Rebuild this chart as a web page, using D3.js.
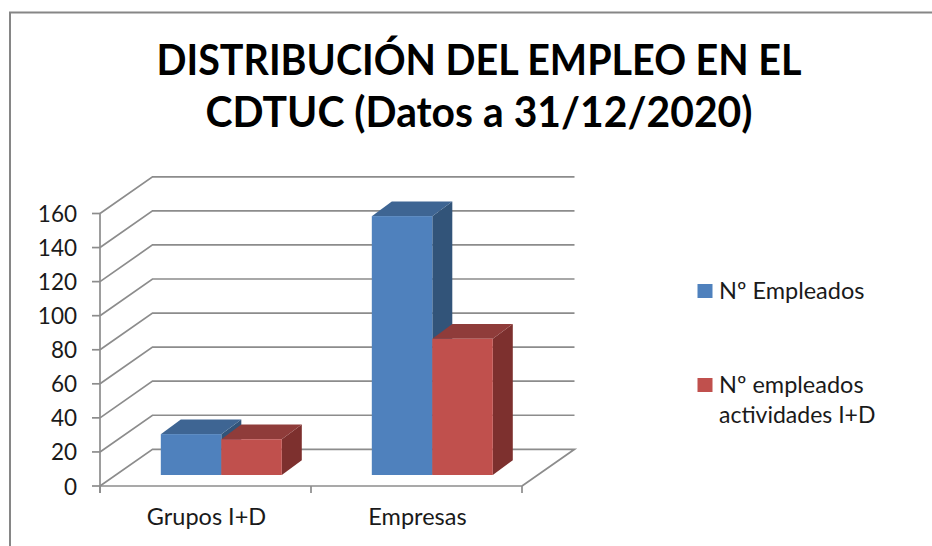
<!DOCTYPE html>
<html>
<head>
<meta charset="utf-8">
<script src="https://cdn.jsdelivr.net/npm/d3@7"></script>
<style>
  html, body { margin: 0; padding: 0; background: #fff; }
  svg { display: block; }
  text { font-family: Lato, "Open Sans", sans-serif; fill: #1a1a1a; }
</style>
</head>
<body>
<div id="chart"></div>
<script>
var categories = ["Grupos I+D", "Empresas"]
var empleados = [24, 152]
var empleadosID = [21, 80]
var yTicks = [0, 20, 40, 60, 80, 100, 120, 140, 160]
var seriesNames = ["Nº Empleados", "Nº empleados actividades I+D"]
var titleLines = ["DISTRIBUCIÓN DEL EMPLEO EN EL", "CDTUC (Datos a 31/12/2020)"]
var titleWidths = [645, 547]

var width = 932, height = 546
var gridColor = "#8c8c8c"

// the fake 3d depth of the floor, bars sit partway into it
var depthX = 52.5, depthY = 36.7
var barDepthX = 20, barDepthY = 14.7
var barOffX = 15.8, barOffY = 11

var svg = d3.select("#chart").append("svg")
  .attr("width", width)
  .attr("height", height)

// outer frame, only top and left show
svg.append("path")
  .attr("d", "M10,546V12.5H932")
  .attr("fill", "none")
  .attr("stroke", "#868686")
  .attr("stroke-width", 2)

svg.selectAll(".title")
  .data(titleLines)
  .enter()
  .append("text")
  .attr("class", "title")
  .attr("x", 479)
  .attr("y", (d, i) => 74.5 + i * 52)
  .attr("text-anchor", "middle")
  .attr("textLength", (d, i) => titleWidths[i])
  .attr("lengthAdjust", "spacingAndGlyphs")
  .style("font-size", "42px")
  .style("font-weight", 700)
  .style("fill", "#000")
  .text(d => d)

var x = d3.scaleBand()
  .domain(categories)
  .range([100, 522])

var y = d3.scaleLinear()
  .domain([0, 160])
  .range([486, 213.5])

var inner = d3.scaleBand()
  .domain(seriesNames)
  .range([0, x.bandwidth()])
  .paddingInner(0)
  .paddingOuter(0.744)

// gridlines: side wall + back wall
var grid = svg.append("g")
yTicks.forEach(function (t) {
  if (t > 0) {
    grid.append("path")
      .attr("d", d3.line()([[x.range()[0], y(t)], [x.range()[0] + depthX, y(t) - depthY], [x.range()[1] + depthX, y(t) - depthY]]))
      .attr("fill", "none")
      .attr("stroke", gridColor)
      .attr("stroke-width", 1.7)
  }
})

// floor
grid.append("path")
  .attr("d", d3.line()([[x.range()[0], y(0)], [x.range()[0] + depthX, y(0) - depthY], [x.range()[1] + depthX, y(0) - depthY], [x.range()[1], y(0)]]))
  .attr("fill", "none")
  .attr("stroke", gridColor)
  .attr("stroke-width", 1.7)

// left axis and front edge
var axisG = svg.append("g")
axisG.append("path")
  .attr("d", d3.line()([[x.range()[0], y(160)], [x.range()[0], y(0) + 7]]))
  .attr("stroke", gridColor).attr("stroke-width", 1.7).attr("fill", "none")
axisG.append("path")
  .attr("d", d3.line()([[x.range()[0], y(0)], [x.range()[1], y(0)]]))
  .attr("stroke", gridColor).attr("stroke-width", 1.7).attr("fill", "none")

axisG.selectAll(".ytick")
  .data(yTicks)
  .enter()
  .append("line")
  .attr("class", "ytick")
  .attr("x1", x.range()[0] - 8)
  .attr("x2", x.range()[0])
  .attr("y1", d => y(d))
  .attr("y2", d => y(d))
  .attr("stroke", gridColor)
  .attr("stroke-width", 1.7)

axisG.selectAll(".xtick")
  .data(categories.concat("end"))
  .enter()
  .append("line")
  .attr("class", "xtick")
  .attr("x1", (d, i) => x.range()[0] + i * x.step())
  .attr("x2", (d, i) => x.range()[0] + i * x.step())
  .attr("y1", y(0))
  .attr("y2", y(0) + 7)
  .attr("stroke", gridColor)
  .attr("stroke-width", 1.7)

axisG.selectAll(".ylabel")
  .data(yTicks)
  .enter()
  .append("text")
  .attr("class", "ylabel")
  .attr("x", 77)
  .attr("y", d => y(d) + 8.5)
  .attr("text-anchor", "end")
  .style("font-size", "22.5px")
  .text(d => d)

axisG.selectAll(".xlabel")
  .data(categories)
  .enter()
  .append("text")
  .attr("class", "xlabel")
  .attr("x", d => x(d) + x.bandwidth() / 2 + 1)
  .attr("y", 525)
  .attr("text-anchor", "middle")
  .style("font-size", "23.5px")
  .text(d => d)

var palette = [
  { front: "#4f81bd", top: "#3e6593", side: "#325479" },
  { front: "#c0504d", top: "#8f3c3a", side: "#7d302e" }
]

function drawBar(cat, serie, value) {
  var c = palette[seriesNames.indexOf(serie)]
  var x0 = x(cat) + inner(serie) + barOffX
  var x1 = x0 + inner.bandwidth()
  var yb = y(0) - barOffY
  var yt = yb - (y(0) - y(value))
  var g = svg.append("g")
  g.append("path")
    .attr("d", d3.line()([[x1, yb], [x1 + barDepthX, yb - barDepthY], [x1 + barDepthX, yt - barDepthY], [x1, yt]]) + "Z")
    .attr("fill", c.side)
  g.append("path")
    .attr("d", d3.line()([[x0, yt], [x0 + barDepthX, yt - barDepthY], [x1 + barDepthX, yt - barDepthY], [x1, yt]]) + "Z")
    .attr("fill", c.top)
  g.append("rect")
    .attr("x", x0)
    .attr("y", yt)
    .attr("width", inner.bandwidth())
    .attr("height", yb - yt)
    .attr("fill", c.front)
}

categories.forEach(function (cat, i) {
  drawBar(cat, seriesNames[0], empleados[i])
  drawBar(cat, seriesNames[1], empleadosID[i])
})

// legend
var legend = svg.append("g")
legend.append("rect").attr("x", 697.5).attr("y", 284).attr("width", 15).attr("height", 14).attr("fill", palette[0].front)
legend.append("rect").attr("x", 697.5).attr("y", 378).attr("width", 15).attr("height", 14).attr("fill", palette[1].front)

legend.append("text").attr("x", 719).attr("y", 299).style("font-size", "23.5px").text(seriesNames[0])
legend.append("text").attr("x", 719).attr("y", 393).style("font-size", "23.5px").text("Nº empleados")
legend.append("text").attr("x", 719).attr("y", 422.5).style("font-size", "23px").text("actividades I+D")
</script>
</body>
</html>
